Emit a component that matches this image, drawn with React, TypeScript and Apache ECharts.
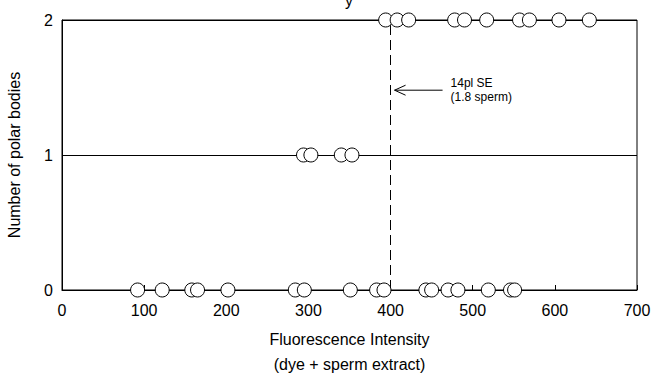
import React, { useEffect, useRef } from "react";
import * as echarts from "echarts";

// Fluorescence intensity of each egg, grouped by number of polar bodies
const row0Intensity = [92, 122, 158, 165, 202, 284, 295, 351, 383, 392, 443, 450, 470, 482, 519, 546, 551];
const row1Intensity = [294, 303, 340, 353];
const row2Intensity = [394, 408, 422, 478, 490, 517, 557, 569, 605, 642];
const polarBodyCounts = [0, 1, 2];
const thresholdIntensity = 400;
const annotationLines = ["14pl SE", "(1.8 sperm)"];
const annotationLevel = 1.48;

const FONT = "'Liberation Sans', Arial, Helvetica, sans-serif";

export default function App() {
  const ref = useRef<HTMLDivElement>(null);

  useEffect(() => {
    if (!ref.current) return;
    const chart = echarts.init(ref.current, undefined, { renderer: "svg" });

    const rows = [row0Intensity, row1Intensity, row2Intensity];
    const points: number[][] = [];
    rows.forEach((xs, i) => xs.forEach((x) => points.push([x, polarBodyCounts[i]])));

    chart.setOption({
      animation: false,
      backgroundColor: "#fff",
      textStyle: { fontFamily: FONT },
      grid: {
        left: 62,
        right: 27,
        top: 20,
        bottom: 85,
        containLabel: false,
        outerBoundsMode: "none",
        show: true,
        borderColor: "#000",
        borderWidth: 1,
        backgroundColor: "transparent",
      },
      xAxis: {
        type: "value",
        min: 0,
        max: 700,
        interval: 100,
        axisLine: { show: true, lineStyle: { color: "#000", width: 1 } },
        axisTick: { show: true, inside: true, length: 5, lineStyle: { color: "#000" } },
        splitLine: { show: false },
        axisLabel: { color: "#000", fontSize: 16, margin: 12, fontFamily: FONT },
        name: "Fluorescence Intensity\n(dye + sperm extract)",
        nameLocation: "middle",
        nameGap: 37,
        nameTextStyle: { color: "#000", fontSize: 16, lineHeight: 25, fontFamily: FONT },
      },
      yAxis: {
        type: "value",
        min: 0,
        max: 2,
        interval: 1,
        axisLine: { show: true, lineStyle: { color: "#000", width: 1 } },
        axisTick: { show: false },
        splitLine: { show: true, lineStyle: { color: "#000", width: 1 } },
        axisLabel: { color: "#000", fontSize: 16, margin: 9, fontFamily: FONT },
        name: "Number of polar bodies",
        nameLocation: "middle",
        nameGap: 40,
        nameTextStyle: { color: "#000", fontSize: 16, fontFamily: FONT },
      },
      series: [
        {
          type: "scatter",
          data: points,
          symbol: "circle",
          symbolSize: 14,
          itemStyle: { color: "#fff", borderColor: "#000", borderWidth: 1, opacity: 1 },
          emphasis: { disabled: true },
          markLine: {
            silent: true,
            symbol: "none",
            label: { show: false },
            lineStyle: { color: "#000", width: 1, type: [10, 5] },
            data: [{ xAxis: thresholdIntensity }],
            z: 1,
          },
          z: 3,
        },
      ],
    });

    const [tipX, tipY] = chart.convertToPixel({ gridIndex: 0 }, [thresholdIntensity, annotationLevel]) as number[];
    const ax = tipX + 4;
    chart.setOption({
      graphic: [
        {
          type: "line",
          shape: { x1: ax, y1: tipY, x2: ax + 48, y2: tipY },
          style: { stroke: "#000", lineWidth: 1 },
        },
        {
          type: "polyline",
          shape: { points: [[ax + 11, tipY - 5], [ax, tipY], [ax + 11, tipY + 5]] },
          style: { stroke: "#000", lineWidth: 1, fill: "none" },
        },
        {
          type: "text",
          x: ax + 56,
          y: tipY - 7,
          style: { text: annotationLines[0], fontSize: 12, fontFamily: FONT, fill: "#000", verticalAlign: "middle", align: "left" },
        },
        {
          type: "text",
          x: ax + 56,
          y: tipY + 7,
          style: { text: annotationLines[1], fontSize: 12, fontFamily: FONT, fill: "#000", verticalAlign: "middle", align: "left" },
        },
        {
          type: "text",
          x: 349,
          y: 8,
          style: { text: "y", fontSize: 16, fontFamily: FONT, fill: "#000", verticalAlign: "bottom", align: "center" },
        },
      ],
    });

    return () => chart.dispose();
  }, []);

  return (
    <div
      ref={ref}
      style={{ position: "fixed", left: 0, top: 0, width: 664, height: 375, background: "#fff" }}
    />
  );
}
